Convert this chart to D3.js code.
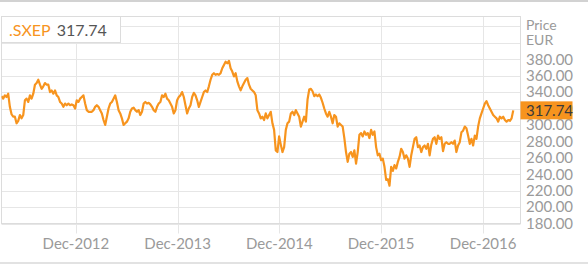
<!DOCTYPE html>
<html>
<head>
<meta charset="utf-8">
<script src="https://cdn.jsdelivr.net/npm/d3@7"></script>
<style>
  html, body { margin: 0; padding: 0; background: #fff; }
  svg { display: block; font-family: Lato, "Open Sans", sans-serif; }
</style>
</head>
<body>
<svg id="chart" width="588" height="265"></svg>
<script>
const symbol = '.SXEP';
const currency = 'EUR';

// closing prices, one reading every 6 days from startDate
const startDate = new Date(2012, 2, 9);
const stepDays = 6;

const prices2012 = [
  335, 332, 336, 334, 338, 322, 313, 310, 310, 302, 305, 312, 308, 312, 330, 332,
  328, 336, 332, 338, 349, 351, 355, 349, 344, 347, 351, 349, 349, 340, 342, 338,
  342, 336, 334, 328, 326, 322, 326, 324, 326, 324, 325, 324, 320, 330, 328, 332,
  334, 336, 326, 318, 316, 316, 316, 318, 322, 324, 322, 318, 314, 306, 300, 310,
  320, 326, 328, 332, 336, 328, 318, 314, 308, 300, 302, 304
];
const prices2014 = [
  308, 316, 320, 321, 318, 316, 318, 312, 316, 326, 328, 326, 327, 325, 322, 318,
  316, 322, 326, 328, 336, 334, 338, 332, 330, 326, 322, 314, 318, 330, 334, 336,
  340, 334, 324, 314, 320, 324, 334, 339, 336, 330, 322, 328, 334, 340, 342, 340,
  347, 355, 361, 363, 361, 362, 361, 363, 369, 373, 377, 375, 378, 369, 365, 359,
  363, 353, 347, 342, 347, 351, 355, 357, 349, 344, 342, 340, 336, 318
];
const prices2015 = [
  314, 308, 310, 306, 314, 308, 312, 316, 302, 294, 269, 267, 286, 276, 267, 273,
  294, 302, 304, 314, 316, 312, 318, 314, 310, 298, 304, 310, 304, 331, 343, 344,
  341, 335, 337, 335, 337, 333, 327, 320, 314, 310, 316, 310, 302, 312, 310, 298,
  302, 300, 298, 284, 267, 255, 265, 267, 261, 269, 253, 267, 288, 290, 286, 292,
  288, 290, 284, 294, 288, 292, 273, 263, 265, 257, 259, 249, 233
];
const prices2016 = [
  234, 226, 249, 244, 251, 247, 255, 261, 271, 267, 259, 263, 259, 249, 263, 273,
  283, 285, 273, 275, 267, 273, 275, 271, 277, 263, 276, 283, 285, 277, 287, 283,
  285, 268, 277, 279, 277, 277, 279, 277, 281, 267, 275, 279, 291, 293, 298, 296,
  287, 277, 283, 275, 287, 283, 298, 308, 314, 320, 326, 329, 324, 320, 316, 312,
  310, 308, 304, 310, 308, 310, 306, 304, 306, 305, 308, 317.74
];

const yTicks = [180, 200, 220, 240, 260, 280, 300, 320, 340, 360, 380, 400, 420];
const yLabels = [180, 200, 220, 240, 260, 280, 300, 320, 340, 360, 380];
const xTicks = [new Date(2012, 11, 1), new Date(2013, 11, 1), new Date(2014, 11, 1),
                new Date(2015, 11, 1), new Date(2016, 11, 1)];

const prices = prices2012.concat(prices2014, prices2015, prices2016);
const data = prices.map((v, i) => ({ date: d3.timeDay.offset(startDate, i * stepDays), value: v }));
const last = data[data.length - 1];

const ORANGE = '#f7941e';
const GRID = '#e6e6e6';
const LABEL = '#9a9a9a';

const svg = d3.select('#chart');

const plotLeft = 1.5, plotRight = 520.5, plotTop = 16.5, plotBottom = 223.5;

const x = d3.scaleTime()
  .domain([new Date(2012, 2, 9), new Date(2017, 3, 14)])
  .range([plotLeft, plotRight]);
const y = d3.scaleLinear()
  .domain([180, 432])
  .range([plotBottom, plotTop]);

// page borders
svg.append('rect').attr('x', 0).attr('y', 0).attr('width', 588).attr('height', 2).attr('fill', '#d2d2d2');
svg.append('rect').attr('x', 0).attr('y', 262).attr('width', 588).attr('height', 2).attr('fill', '#e2e2e2');

// horizontal grid
svg.append('g')
  .selectAll('line')
  .data(yTicks)
  .join('line')
    .attr('x1', plotLeft).attr('x2', plotRight)
    .attr('y1', d => Math.round(y(d)) + 0.5)
    .attr('y2', d => Math.round(y(d)) + 0.5)
    .attr('stroke', GRID);

// vertical grid with ticks below the plot
svg.append('g')
  .selectAll('line')
  .data(xTicks)
  .join('line')
    .attr('x1', d => Math.round(x(d)) + 0.5)
    .attr('x2', d => Math.round(x(d)) + 0.5)
    .attr('y1', plotTop).attr('y2', plotBottom + 10)
    .attr('stroke', GRID);

// plot frame
svg.append('rect')
  .attr('x', plotLeft).attr('y', plotTop)
  .attr('width', plotRight - plotLeft).attr('height', plotBottom - plotTop)
  .attr('fill', 'none').attr('stroke', '#dcdcdc');

svg.append('clipPath').attr('id', 'clip')
  .append('rect').attr('x', plotLeft).attr('y', plotTop)
  .attr('width', plotRight - plotLeft).attr('height', plotBottom - plotTop);

const line = d3.line()
  .x(d => x(d.date))
  .y(d => y(d.value));

svg.append('path')
  .datum(data)
  .attr('clip-path', 'url(#clip)')
  .attr('fill', 'none')
  .attr('stroke', ORANGE)
  .attr('stroke-width', 2.2)
  .attr('stroke-linejoin', 'round')
  .attr('d', line);

// x labels
svg.append('g')
  .selectAll('text')
  .data(xTicks)
  .join('text')
    .attr('x', d => x(d))
    .attr('y', 249)
    .attr('text-anchor', 'middle')
    .attr('fill', LABEL)
    .attr('font-size', 15)
    .text(d3.timeFormat('%b-%Y'));

// y labels (300.00 sits partly under the current value box, as in the original)
svg.append('g')
  .selectAll('text')
  .data(yLabels)
  .join('text')
    .attr('x', 526)
    .attr('y', d => y(d))
    .attr('dy', '0.36em')
    .attr('fill', LABEL)
    .attr('font-size', 15)
    .text(d => d3.format('.2f')(d));

svg.append('text').attr('x', 526).attr('y', 25).attr('dy', '0.36em')
  .attr('fill', LABEL).attr('font-size', 14).text('Price');
svg.append('text').attr('x', 526).attr('y', 40).attr('dy', '0.36em')
  .attr('fill', LABEL).attr('font-size', 14).text(currency);

// current value marker
svg.append('rect')
  .attr('x', plotRight).attr('y', y(last.value) - 9)
  .attr('width', 52).attr('height', 18)
  .attr('fill', ORANGE);
svg.append('text')
  .attr('x', 526).attr('y', y(last.value)).attr('dy', '0.36em')
  .attr('fill', '#3a3a3a').attr('font-size', 15)
  .text(d3.format('.2f')(last.value));

// legend
svg.append('rect')
  .attr('x', plotLeft).attr('y', plotTop)
  .attr('width', 119).attr('height', 26)
  .attr('fill', '#fff').attr('stroke', '#dcdcdc');
const legend = svg.append('text').attr('x', 9).attr('y', 30).attr('dy', '0.36em').attr('font-size', 16);
legend.append('tspan').attr('fill', ORANGE).text(symbol);
legend.append('tspan').attr('fill', '#555').attr('dx', 6).text(d3.format('.2f')(last.value));
</script>
</body>
</html>
